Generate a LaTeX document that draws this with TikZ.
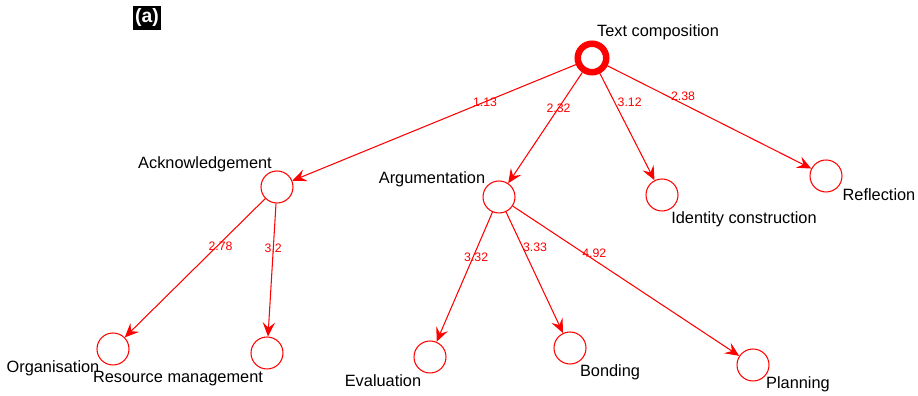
\documentclass[tikz,border=0pt]{standalone}
\usepackage{fontspec}
\setmainfont{Liberation Sans}
\usetikzlibrary{arrows.meta}

\begin{document}
\begin{tikzpicture}[
    vert/.style={circle,draw=red,line width=0.6pt,minimum size=0.64cm,inner sep=0pt},
    root/.style={circle,draw=red,line width=3.7pt,minimum size=0.57cm,inner sep=0pt},
    lab/.style={font=\fontsize{9.3}{10}\selectfont,inner sep=0pt},
    wt/.style={font=\fontsize{7}{8}\selectfont,text=red,inner sep=0pt},
    link/.style={draw=red,line width=0.6pt,-{Stealth[length=8pt,width=7pt,inset=3pt]}}
  ]
  \useasboundingbox (0,0) rectangle (18.36,7.92);
  % panel tag
  \node[fill=black,text=white,font=\fontsize{11}{12}\selectfont\bfseries,inner sep=1.5pt] (tag) at (2.94,7.56) {(a)};
  % vertices
  \node[root] (comp) at (11.84,6.76) {};
  \node[vert] (ack) at (5.54,4.18) {};
  \node[vert] (arg) at (9.98,3.98) {};
  \node[vert] (ide) at (13.24,4.02) {};
  \node[vert] (ref) at (16.52,4.40) {};
  \node[vert] (org) at (2.26,0.94) {};
  \node[vert] (res) at (5.34,0.86) {};
  \node[vert] (eva) at (8.60,0.78) {};
  \node[vert] (bon) at (11.40,0.96) {};
  \node[vert] (pla) at (15.06,0.62) {};
  % vertex names
  \node[lab] (t-comp) at (13.16,7.27) {Text composition};
  \node[lab] (t-ack) at (4.10,4.64) {Acknowledgement};
  \node[lab] (t-arg) at (8.64,4.33) {Argumentation};
  \node[lab] (t-ide) at (14.88,3.54) {Identity construction};
  \node[lab] (t-ref) at (17.58,4.03) {Reflection};
  \node[lab] (t-org) at (1.06,0.56) {Organisation};
  \node[lab] (t-res) at (3.56,0.35) {Resource management};
  \node[lab] (t-eva) at (7.66,0.31) {Evaluation};
  \node[lab] (t-bon) at (12.20,0.48) {Bonding};
  \node[lab] (t-pla) at (15.96,0.24) {Planning};
  % weighted links
  \draw[link] (comp) -- node[wt,pos=0.32]{1.13} (ack);
  \draw[link] (comp) -- node[wt,pos=0.32]{2.32} (arg);
  \draw[link] (comp) -- node[wt,pos=0.27,xshift=0.3cm]{3.12} (ide);
  \draw[link] (comp) -- node[wt,pos=0.37,yshift=0.16cm]{2.38} (ref);
  \draw[link] (ack) -- node[wt,pos=0.34,xshift=0.06cm]{2.78} (org);
  \draw[link] (ack) -- node[wt,pos=0.34]{3.2} (res);
  \draw[link] (arg) -- node[wt,pos=0.345,xshift=0.06cm]{3.32} (eva);
  \draw[link] (arg) -- node[wt,pos=0.29,xshift=0.25cm]{3.33} (bon);
  \draw[link] (arg) -- node[wt,pos=0.36,yshift=0.14cm]{4.92} (pla);
\end{tikzpicture}
\end{document}
